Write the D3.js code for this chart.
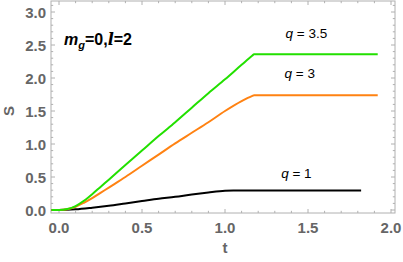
<!DOCTYPE html>
<html><head><meta charset="utf-8">
<script src="https://cdn.jsdelivr.net/npm/d3@7"></script>
<style>body{margin:0;background:#fff}svg{display:block}</style>
</head><body><svg id="c" width="403" height="262"></svg>
<script>
const tGreen = [-0.045,0,0.05,0.1,0.15,0.2,0.25,0.3,0.4,0.5,0.6,0.7,0.8,0.9,1.0,1.1,1.165,1.175,1.92];
const sGreen = [0,0,0.015,0.06,0.14,0.24,0.35,0.46,0.68,0.9,1.12,1.33,1.55,1.77,1.98,2.2,2.34,2.36,2.36];
const tOrange = [-0.045,0,0.05,0.1,0.15,0.2,0.25,0.3,0.4,0.5,0.6,0.7,0.8,0.9,1.0,1.1,1.165,1.175,1.92];
const sOrange = [0,0,0.012,0.05,0.11,0.18,0.26,0.34,0.5,0.67,0.84,1.01,1.17,1.33,1.5,1.65,1.73,1.74,1.74];
const tBlack = [-0.045,0,0.1,0.2,0.3,0.4,0.5,0.6,0.7,0.8,0.9,1.0,1.05,1.82];
const sBlack = [0,0,0.01,0.035,0.065,0.1,0.135,0.17,0.2,0.235,0.265,0.29,0.295,0.295];
const xTicks = [0,0.5,1,1.5,2];
const yTicks = [0,0.5,1,1.5,2,2.5,3];
const labels = ["q = 3.5","q = 3","q = 1"];
const labelPos = [[1.49,2.6],[1.45,2.0],[1.43,0.48]];

const svg = d3.select("#c");
const x = d3.scaleLinear().domain([0,2]).range([59,391]);
const y = d3.scaleLinear().domain([0,3]).range([210,12]);
const L=51,R=395,T=1,B=213;
const frameCol="#b0b0b0", labCol="#666";

const g = svg.append("g");
const minorX = d3.range(-0.0,2.01,0.1);
const minorY = d3.range(0,3.11,0.1);
function isMajor(v){return Math.abs(v*2-Math.round(v*2))<1e-6;}
minorX.forEach(v=>{const len=isMajor(v)?4:2.2;const px=x(v);
  g.append("line").attr("x1",px).attr("x2",px).attr("y1",B).attr("y2",B-len).attr("stroke",frameCol);
  g.append("line").attr("x1",px).attr("x2",px).attr("y1",T).attr("y2",T+len).attr("stroke",frameCol);});
minorY.forEach(v=>{const len=isMajor(v)?4:2.2;const py=y(v);
  g.append("line").attr("x1",L).attr("x2",L+len).attr("y1",py).attr("y2",py).attr("stroke",frameCol);
  g.append("line").attr("x1",R).attr("x2",R-len).attr("y1",py).attr("y2",py).attr("stroke",frameCol);});
svg.append("rect").attr("x",L).attr("y",T).attr("width",R-L).attr("height",B-T)
  .attr("fill","none").attr("stroke",frameCol).attr("stroke-width",1);

const font="'Liberation Sans', Arial, sans-serif";
xTicks.forEach(v=>svg.append("text").attr("x",x(v)).attr("y",233).attr("text-anchor","middle")
  .attr("font-family",font).attr("font-weight","bold").attr("font-size",15).attr("fill",labCol).text(d3.format(".1f")(v)));
yTicks.forEach(v=>svg.append("text").attr("x",46).attr("y",y(v)+5.5).attr("text-anchor","end")
  .attr("font-family",font).attr("font-weight","bold").attr("font-size",15).attr("fill",labCol).text(d3.format(".1f")(v)));
svg.append("text").attr("x",225).attr("y",253).attr("text-anchor","middle").attr("font-family",font)
  .attr("font-weight","bold").attr("font-size",15).attr("fill",labCol).text("t");
svg.append("text").attr("transform","translate(14,111) rotate(-90)").attr("text-anchor","middle").attr("font-family",font)
  .attr("font-weight","bold").attr("font-size",15).attr("fill",labCol).text("S");

const line = d3.line().x(d=>x(d[0])).y(d=>y(d[1])).curve(d3.curveMonotoneX);
svg.append("clipPath").attr("id","cp").append("rect").attr("x",L).attr("y",T).attr("width",R-L).attr("height",B-T);
const series=[[tBlack,sBlack,"#000000"],[tOrange,sOrange,"#ff8212"],[tGreen,sGreen,"#22e000"]];
series.forEach(([ts,ss,c])=>{
  svg.append("path").datum(ts.map((t,i)=>[t,ss[i]])).attr("d",line).attr("fill","none")
   .attr("stroke",c).attr("stroke-width",2).attr("clip-path","url(#cp)");
});

labels.forEach((s,i)=>{
  const tx=svg.append("text").attr("x",x(labelPos[i][0])).attr("y",y(labelPos[i][1])).attr("text-anchor","middle")
   .attr("font-family",font).attr("font-size",13.5).attr("fill","#000");
  const parts=s.split("q");
  tx.append("tspan").attr("font-style","italic").text("q");
  tx.append("tspan").text(parts[1]);
});

const ann=svg.append("text").attr("x",64).attr("y",45).attr("font-family",font).attr("font-weight","bold").attr("font-size",16).attr("fill","#000");
ann.append("tspan").attr("font-style","italic").text("m");
ann.append("tspan").attr("font-style","italic").attr("font-size",11).attr("dy",4).text("g");
ann.append("tspan").attr("dy",-4).text("=0,");
ann.append("tspan").attr("font-style","italic").attr("font-family","'DejaVu Serif', serif").text("l");
ann.append("tspan").text("=2");
</script></body></html>
